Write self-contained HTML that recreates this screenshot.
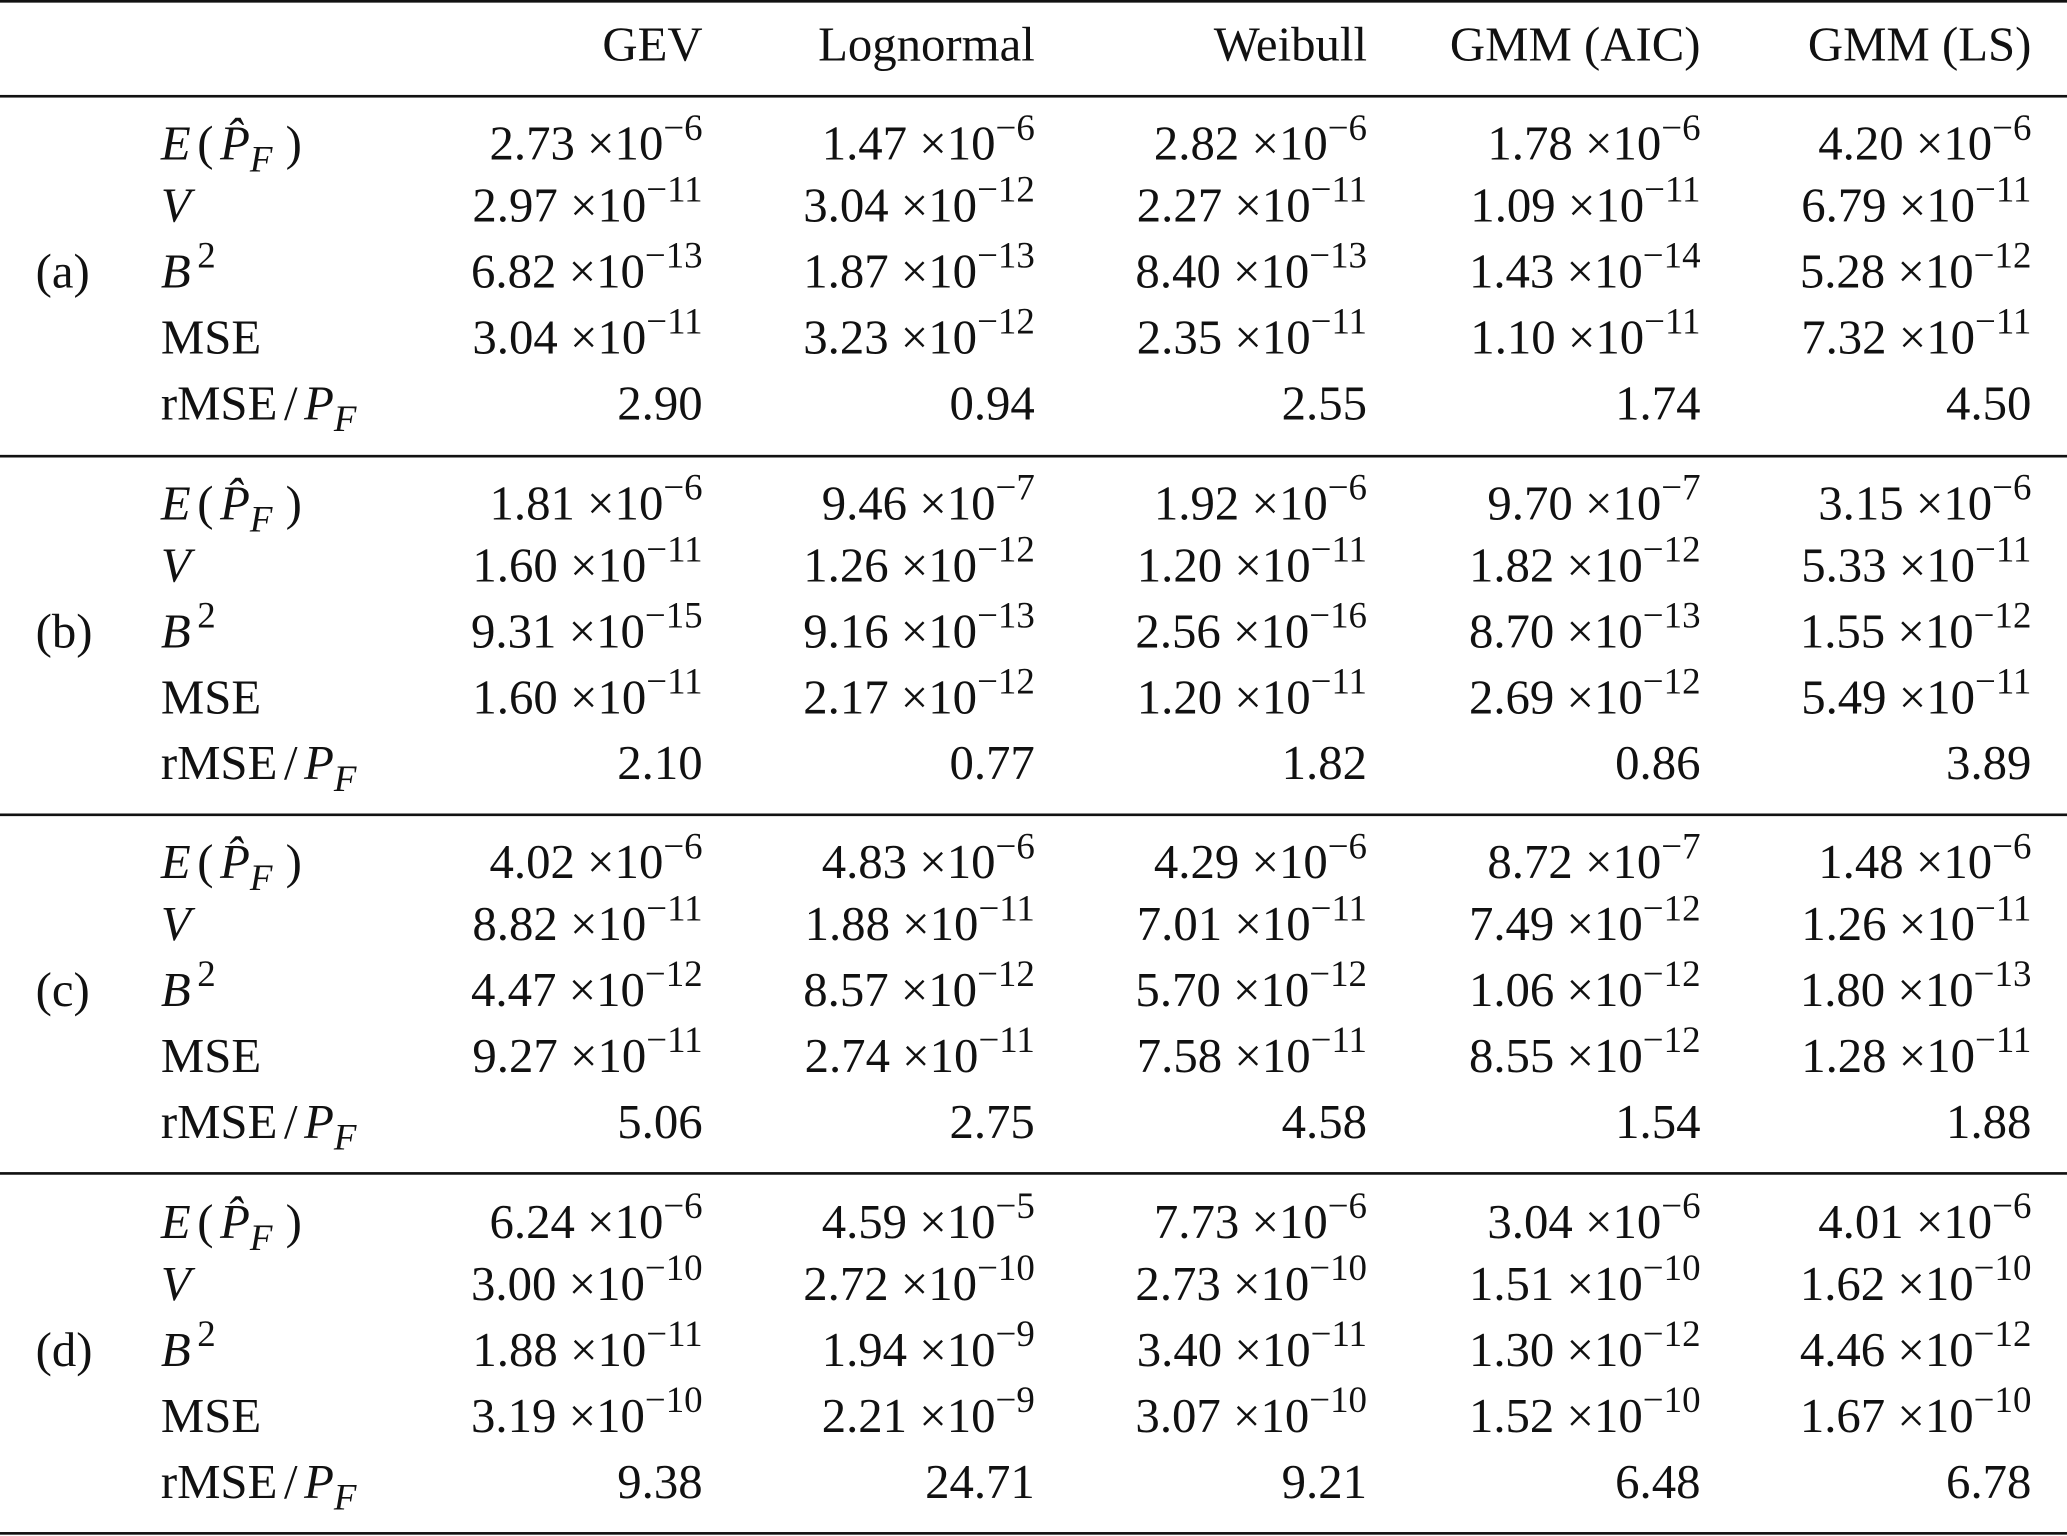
<!DOCTYPE html>
<html><head><meta charset="utf-8">
<style>
html,body{margin:0;padding:0;background:#fff;width:2067px;height:1536px;overflow:hidden}
#wrap{position:absolute;left:0;top:0;width:1568px;height:1165px;transform:scale(1.31824,1.31845);transform-origin:0 0;font-family:"Liberation Serif","DejaVu Serif",serif;color:#111;font-size:37px}
.rule{position:absolute;left:0;width:1568px;background:#111}
.t{position:absolute;line-height:40px;white-space:nowrap}
.r{text-align:right;width:400px}
sup{font-size:28px;vertical-align:0;position:relative;top:-15px;line-height:0}
sub{font-size:28px;vertical-align:0;position:relative;top:9px;line-height:0}
i{font-style:italic}
.sp{display:inline-block;width:5px}
</style></head><body>
<div id="wrap">
<div class="rule" style="top:0;height:2px"></div>
<div class="rule" style="top:72px;height:2px"></div>
<div class="rule" style="top:345px;height:1.5px"></div>
<div class="rule" style="top:617px;height:1.5px"></div>
<div class="rule" style="top:889px;height:1.5px"></div>
<div class="rule" style="top:1162px;height:2px"></div>
</div>
<script>
const headers=["GEV","Lognormal","Weibull","GMM (AIC)","GMM (LS)"];
const colRight=[533,785,1037,1290,1541];
const groups=["(a)","(b)","(c)","(d)"];
const groupBase=[110,383,655,928];
const rowOffsets=[0,47,97,147,197];
const rowLabels=['<i>E</i><span class="sp"></span>(<span class="sp"></span><i>P&#770;</i><sub><i>F</i></sub><span class="sp"></span><span class="sp"></span>)','<i>V</i>','<i>B</i><span class="sp"></span><sup>2</sup>','MSE','rMSE<span class="sp"></span>/<span class="sp"></span><i>P</i><sub><i>F</i></sub>'];
const vals=[
[["2.73",-6],["1.47",-6],["2.82",-6],["1.78",-6],["4.20",-6]],
[["2.97",-11],["3.04",-12],["2.27",-11],["1.09",-11],["6.79",-11]],
[["6.82",-13],["1.87",-13],["8.40",-13],["1.43",-14],["5.28",-12]],
[["3.04",-11],["3.23",-12],["2.35",-11],["1.10",-11],["7.32",-11]],
["2.90","0.94","2.55","1.74","4.50"],
[["1.81",-6],["9.46",-7],["1.92",-6],["9.70",-7],["3.15",-6]],
[["1.60",-11],["1.26",-12],["1.20",-11],["1.82",-12],["5.33",-11]],
[["9.31",-15],["9.16",-13],["2.56",-16],["8.70",-13],["1.55",-12]],
[["1.60",-11],["2.17",-12],["1.20",-11],["2.69",-12],["5.49",-11]],
["2.10","0.77","1.82","0.86","3.89"],
[["4.02",-6],["4.83",-6],["4.29",-6],["8.72",-7],["1.48",-6]],
[["8.82",-11],["1.88",-11],["7.01",-11],["7.49",-12],["1.26",-11]],
[["4.47",-12],["8.57",-12],["5.70",-12],["1.06",-12],["1.80",-13]],
[["9.27",-11],["2.74",-11],["7.58",-11],["8.55",-12],["1.28",-11]],
["5.06","2.75","4.58","1.54","1.88"],
[["6.24",-6],["4.59",-5],["7.73",-6],["3.04",-6],["4.01",-6]],
[["3.00",-10],["2.72",-10],["2.73",-10],["1.51",-10],["1.62",-10]],
[["1.88",-11],["1.94",-9],["3.40",-11],["1.30",-12],["4.46",-12]],
[["3.19",-10],["2.21",-9],["3.07",-10],["1.52",-10],["1.67",-10]],
["9.38","24.71","9.21","6.48","6.78"]
];
const wrap=document.getElementById('wrap');
const rowNames=['expected-pf','variance','bias-squared','mse','rmse-ratio'];
function add(html,left,top,right){
  const d=document.createElement('div');
  d.className='t'+(right?' r':'');
  d.style.left=(right?left-400:left)+'px';
  d.style.top=top+'px';
  d.innerHTML=html;
  wrap.appendChild(d);
  return d;
}
headers.forEach((h,c)=>{
  const d=add(h,colRight[c],15,true);
  
  
});
groups.forEach((g,gi)=>{
  const d=add(g,27,groupBase[gi]+97-20,false);
  
  
  rowLabels.forEach((lab,ri)=>{
    const y=groupBase[gi]+rowOffsets[ri]-20;
    const l=add(lab,122,y,false);
    
    
    const row=vals[gi*5+ri];
    row.forEach((v,c)=>{
      const html=Array.isArray(v)?v[0]+' &times;10<sup>&minus;'+Math.abs(v[1])+'</sup>':v;
      const cell=add(html,colRight[c],y,true);
      
      
    });
  });
});
</script>
</body></html>
